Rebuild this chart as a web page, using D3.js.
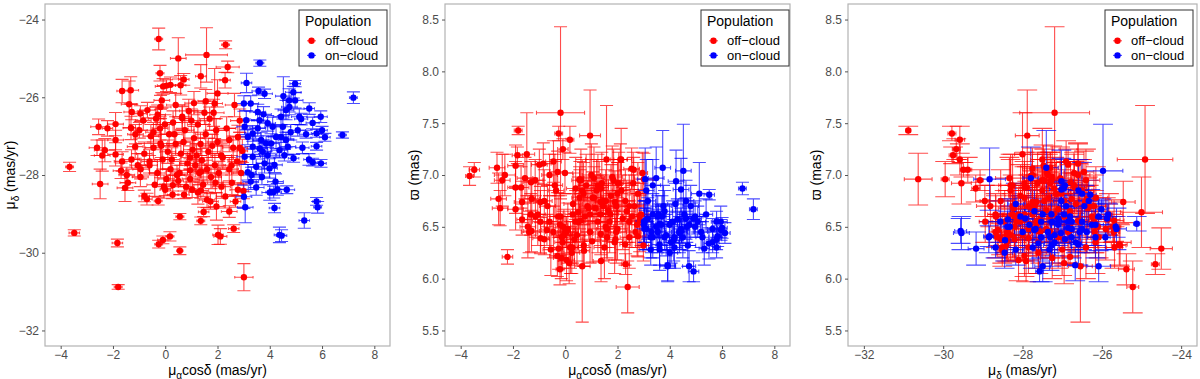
<!DOCTYPE html>
<html>
<head>
<meta charset="utf-8">
<script src="https://cdn.jsdelivr.net/npm/d3@7"></script>
<style>
  body { margin: 0; background: #fff; }
  svg text { font-family: "Liberation Sans", Arial, Helvetica, sans-serif; }
</style>
</head>
<body>
<svg id="chart" width="1200" height="379"></svg>
<script>
// one row per star: pmra, pmdec, parallax, err pmra, err pmdec, err parallax
const offCloud = [
  [-3.66,-27.79,6.99,0.15,0.12,0.09], [-3.48,-29.49,7.05,0.20,0.08,0.07], [-1.80,-30.88,7.43,0.15,0.06,0.04],
  [-1.83,-29.75,7.19,0.20,0.10,0.08], [-0.25,-29.78,7.40,0.15,0.10,0.07], [0.18,-29.58,7.34,0.15,0.12,0.13],
  [-0.09,-29.67,7.25,0.20,0.10,0.10], [0.56,-29.95,6.96,0.12,0.10,0.17], [2.02,-29.54,6.92,0.20,0.25,0.20],
  [2.11,-29.58,7.15,0.25,0.20,0.15], [2.62,-29.38,7.05,0.20,0.10,0.12], [1.36,-29.18,6.87,0.15,0.10,0.13],
  [0.56,-29.07,6.95,0.15,0.08,0.10], [1.47,-28.95,6.75,0.20,0.12,0.15], [2.45,-28.94,6.55,0.30,0.15,0.20],
  [1.96,-28.81,6.70,0.30,0.35,0.20], [3.01,-30.63,6.96,0.35,0.35,0.25], [-0.25,-24.50,6.29,0.15,0.28,0.20],
  [1.58,-24.91,7.15,0.80,0.70,0.52], [0.50,-25.00,6.64,0.30,0.53,0.34], [2.31,-24.65,6.14,0.15,0.10,0.10],
  [2.39,-25.22,5.92,0.44,0.15,0.25], [2.29,-25.56,6.33,0.20,0.20,0.20], [1.36,-25.46,6.74,0.20,0.30,0.20],
  [0.71,-25.54,6.32,0.20,0.15,0.20], [-0.20,-25.38,6.09,0.15,0.20,0.15], [-0.08,-25.72,6.50,0.30,0.20,0.15],
  [0.05,-25.70,6.45,0.35,0.15,0.15], [0.20,-25.68,6.30,0.30,0.20,0.20], [0.59,-25.69,6.56,0.20,0.25,0.20],
  [-1.65,-25.84,6.57,0.20,0.30,0.15], [-1.32,-25.82,6.62,0.30,0.35,0.20], [-1.38,-26.18,6.45,0.30,0.60,0.20],
  [-0.13,-26.08,6.40,0.30,0.20,0.20], [1.55,-26.10,6.50,0.30,0.30,0.20], [1.89,-26.16,6.35,0.30,0.90,0.30],
  [-0.18,-26.25,6.60,0.40,0.30,0.20], [-0.68,-26.33,6.70,0.30,0.20,0.20], [-0.95,-26.42,6.74,0.25,0.20,0.15],
  [-1.28,-26.38,6.77,0.30,0.20,0.20], [-2.55,-26.76,6.77,0.30,0.20,0.25], [-2.21,-26.80,6.21,0.20,0.20,0.07],
  [-1.90,-26.69,6.88,0.30,0.30,0.25], [-1.31,-26.79,6.93,0.30,0.30,0.20], [-0.99,-26.85,7.10,0.30,0.20,0.15],
  [-2.61,-27.30,7.07,0.30,0.20,0.15], [-2.31,-27.36,7.00,0.40,0.30,0.20], [-2.41,-27.50,6.95,0.30,0.40,0.25],
  [-1.90,-27.47,7.09,0.30,0.30,0.20], [-1.15,-27.27,6.95,0.30,0.30,0.20], [-2.49,-28.23,6.68,0.30,0.38,0.17],
  [-1.69,-27.89,6.88,0.30,0.20,0.20], [-1.47,-28.00,7.20,0.30,0.20,0.40], [-1.43,-28.20,6.50,0.30,0.20,0.30],
  [-1.54,-28.33,6.97,0.30,0.35,0.20], [-0.80,-28.54,6.38,0.20,0.15,0.15], [-0.70,-28.62,6.47,0.20,0.15,0.15],
  [-0.27,-28.67,6.60,0.15,0.10,0.20], [0.00,-28.38,6.45,0.20,0.15,0.15], [0.29,-28.26,6.62,0.30,0.25,0.20],
  [0.28,-28.51,6.30,0.20,0.10,0.15], [0.72,-28.51,6.27,0.20,0.10,0.15], [0.50,-28.15,6.55,0.20,0.15,0.20],
  [1.03,-28.38,6.36,0.30,0.20,0.20], [1.36,-28.40,6.43,0.30,0.20,0.20], [1.60,-28.64,6.40,0.30,0.20,0.20],
  [1.73,-28.68,6.62,0.30,0.20,0.20], [2.69,-28.68,6.45,0.20,0.15,0.15], [2.78,-28.38,6.41,0.30,0.15,0.20],
  [2.99,-28.41,6.32,0.20,0.20,0.15], [2.78,-27.02,6.82,0.30,0.30,0.30], [2.85,-27.30,6.60,0.30,0.40,0.20],
  [2.95,-27.38,7.02,0.20,0.30,0.20], [-0.18,-27.19,7.60,0.92,0.88,0.83], [0.95,-27.88,7.38,0.40,0.30,0.44],
  [2.14,-27.50,7.15,0.40,0.30,0.30], [0.65,-26.54,6.12,0.30,0.30,0.54], [1.37,-27.91,6.17,0.30,0.20,0.20],
  [-1.90,-27.10,6.67,0.30,0.25,0.20], [-1.65,-27.65,6.74,0.30,0.25,0.20], [-1.29,-27.60,6.46,0.30,0.25,0.20],
  [-0.94,-27.85,6.39,0.30,0.25,0.15], [-1.14,-26.95,6.60,0.30,0.25,0.20], [-0.84,-26.60,7.11,0.30,0.25,0.20],
  [-0.45,-26.90,7.13,0.30,0.25,0.20], [-0.60,-27.75,7.00,0.30,0.25,0.20], [-0.29,-26.45,7.03,0.30,0.25,0.20],
  [-0.01,-26.70,7.02,0.30,0.25,0.20], [1.92,-28.20,6.38,0.30,0.25,0.20], [2.54,-27.75,7.06,0.30,0.25,0.20],
  [1.20,-27.50,6.85,0.40,0.30,0.30], [1.05,-27.35,6.78,0.35,0.25,0.25], [1.40,-27.62,6.92,0.40,0.30,0.30],
  [0.85,-27.70,6.70,0.30,0.30,0.25], [1.65,-27.40,6.66,0.45,0.35,0.30], [1.90,-27.75,6.74,0.40,0.30,0.30],
  [0.60,-27.45,6.95,0.35,0.30,0.30], [2.20,-27.55,6.58,0.40,0.30,0.30], [1.30,-27.95,6.88,0.35,0.30,0.25],
  [0.95,-28.10,6.62,0.30,0.25,0.25], [1.75,-28.05,6.80,0.40,0.30,0.30], [2.45,-27.85,6.70,0.35,0.30,0.30],
  [0.40,-27.20,6.87,0.35,0.30,0.30], [1.10,-27.05,6.97,0.40,0.30,0.30], [1.55,-26.95,6.75,0.40,0.35,0.30],
  [2.00,-27.15,6.82,0.40,0.30,0.30], [0.75,-26.85,6.60,0.35,0.30,0.30], [1.25,-26.70,6.90,0.40,0.35,0.30],
  [1.70,-26.55,6.55,0.40,0.30,0.30], [0.30,-26.65,6.72,0.35,0.30,0.30], [0.10,-27.40,6.48,0.30,0.30,0.25],
  [-0.10,-27.60,6.35,0.30,0.25,0.25], [0.20,-27.85,6.30,0.30,0.30,0.25], [-0.30,-27.95,6.22,0.30,0.30,0.20],
  [0.45,-28.00,6.42,0.30,0.25,0.25], [0.05,-28.10,6.18,0.30,0.25,0.20], [-0.45,-27.30,6.45,0.30,0.30,0.25],
  [-0.60,-27.65,6.55,0.30,0.30,0.25], [0.35,-26.95,6.38,0.30,0.30,0.25], [-0.20,-26.80,6.52,0.30,0.30,0.30],
  [2.60,-27.30,6.92,0.40,0.30,0.30], [2.35,-26.80,6.65,0.35,0.30,0.30], [2.55,-28.20,6.60,0.35,0.30,0.30],
  [2.15,-28.30,6.85,0.35,0.30,0.30], [1.45,-28.25,6.70,0.40,0.30,0.30], [0.80,-28.30,6.90,0.30,0.30,0.30],
  [1.85,-26.40,6.95,0.40,0.35,0.30], [0.90,-26.35,6.68,0.35,0.30,0.30], [1.00,-26.60,7.00,0.35,0.30,0.30],
  [2.75,-27.65,6.52,0.35,0.30,0.30], [1.35,-27.20,6.62,0.40,0.30,0.30], [0.55,-27.95,6.78,0.30,0.30,0.30],
  [1.60,-27.85,6.48,0.40,0.30,0.30], [2.05,-27.95,6.92,0.40,0.30,0.30], [1.15,-27.75,6.68,0.40,0.30,0.30],
  [0.70,-27.15,6.82,0.35,0.30,0.30], [-0.35,-26.55,6.85,0.30,0.30,0.30], [-0.55,-27.00,6.28,0.30,0.30,0.25],
  [-0.15,-27.25,6.20,0.30,0.30,0.20], [0.25,-27.60,6.25,0.30,0.30,0.20], [0.15,-26.95,6.15,0.30,0.30,0.20],
  [-0.05,-28.30,6.42,0.30,0.30,0.25], [2.45,-27.10,6.40,0.35,0.30,0.30], [1.95,-26.85,6.45,0.40,0.30,0.30],
  [1.50,-26.40,6.30,0.40,0.30,0.30], [0.95,-27.55,6.45,0.35,0.30,0.30], [1.80,-27.25,6.98,0.40,0.30,0.30],
  [1.25,-28.45,6.55,0.35,0.30,0.30], [2.30,-28.55,6.75,0.35,0.30,0.30], [0.65,-26.50,6.85,0.35,0.30,0.30],
  [-0.80,-27.45,6.75,0.30,0.30,0.30], [-1.05,-27.75,6.62,0.30,0.30,0.30], [-0.95,-28.05,6.55,0.30,0.25,0.30],
  [-0.40,-28.25,6.90,0.30,0.30,0.30], [2.85,-26.60,6.56,0.35,0.30,0.30], [2.65,-26.20,6.70,0.35,0.30,0.30],
  [2.00,-25.90,6.48,0.40,0.35,0.30], [0.40,-26.20,6.55,0.35,0.30,0.30], [1.10,-26.15,6.78,0.35,0.30,0.30],
  [2.90,-27.95,6.62,0.30,0.30,0.30]
];

const onCloud = [
  [3.62,-25.12,6.53,0.15,0.08,0.07], [3.11,-25.63,6.48,0.20,0.25,0.20], [3.57,-25.84,6.62,0.25,0.10,0.10],
  [3.80,-25.91,6.40,0.30,0.12,0.12], [7.20,-26.01,6.67,0.15,0.15,0.10], [4.97,-25.65,6.50,0.20,0.08,0.10],
  [4.90,-25.87,6.58,0.30,0.15,0.15], [4.52,-25.97,7.04,0.30,0.50,0.45], [4.74,-26.08,6.12,0.25,0.30,0.15],
  [4.97,-26.08,6.60,0.30,0.20,0.15], [5.51,-26.29,6.81,0.20,0.15,0.05], [5.13,-26.50,6.82,0.30,0.20,0.30],
  [5.20,-26.56,6.45,0.25,0.15,0.15], [5.64,-26.66,6.35,0.25,0.15,0.10], [5.07,-26.85,6.55,0.30,0.15,0.15],
  [5.39,-26.95,6.62,0.25,0.10,0.15], [5.79,-26.93,6.38,0.20,0.10,0.10], [6.11,-27.03,6.44,0.20,0.10,0.10],
  [6.78,-26.97,6.87,0.15,0.08,0.06], [5.79,-27.26,6.55,0.20,0.10,0.10], [5.64,-27.67,6.48,0.20,0.10,0.10],
  [5.96,-27.70,6.47,0.20,0.10,0.10], [4.91,-27.57,6.07,0.20,0.10,0.10], [4.56,-27.49,6.62,0.30,0.15,0.15],
  [4.65,-28.38,6.50,0.30,0.10,0.15], [4.29,-28.37,6.57,0.30,0.15,0.20], [4.15,-28.44,6.37,0.30,0.15,0.20],
  [4.18,-28.85,6.40,0.20,0.12,0.15], [4.22,-28.17,6.72,0.30,0.20,0.20], [4.37,-29.54,6.44,0.20,0.20,0.16],
  [4.45,-29.56,6.46,0.20,0.15,0.12], [5.32,-29.17,6.29,0.20,0.20,0.16], [5.79,-28.68,6.30,0.15,0.10,0.10],
  [5.83,-28.83,6.41,0.15,0.15,0.10], [3.06,-28.83,6.96,0.30,0.40,0.30], [3.01,-28.56,6.55,0.30,0.30,0.20],
  [3.48,-28.32,6.50,0.30,0.20,0.20], [3.27,-28.17,6.28,0.30,0.20,0.15], [3.16,-27.93,6.58,0.30,0.20,0.20],
  [3.48,-27.79,6.97,0.30,0.20,0.30], [3.80,-27.70,6.65,0.30,0.25,0.20], [3.92,-27.49,6.12,0.30,0.20,0.15],
  [3.73,-27.40,7.07,0.30,0.30,0.36], [3.16,-27.02,6.75,0.30,0.20,0.20], [3.35,-26.93,6.90,0.30,0.20,0.25],
  [3.54,-26.80,6.60,0.30,0.20,0.20], [3.54,-26.38,6.45,0.30,0.20,0.20], [3.76,-26.44,6.70,0.30,0.20,0.20],
  [3.61,-26.59,6.33,0.30,0.20,0.20], [3.01,-26.16,6.52,0.30,0.20,0.20], [3.27,-26.16,6.40,0.30,0.20,0.20],
  [3.92,-26.67,6.13,0.30,0.20,0.15], [4.11,-26.76,6.55,0.30,0.25,0.20], [4.24,-27.02,6.94,0.30,0.30,0.30],
  [4.43,-27.02,6.86,0.30,0.30,0.30], [4.05,-27.19,6.35,0.30,0.25,0.20], [4.43,-26.50,6.48,0.30,0.20,0.20],
  [4.62,-26.33,6.75,0.30,0.25,0.20], [4.50,-26.76,6.40,0.30,0.20,0.20], [4.75,-26.25,6.52,0.30,0.20,0.20],
  [4.69,-27.27,6.32,0.30,0.20,0.20], [4.62,-27.10,6.58,0.30,0.20,0.20], [4.37,-27.36,6.45,0.30,0.20,0.20],
  [3.67,-27.10,6.52,0.30,0.20,0.20], [3.86,-27.19,6.42,0.30,0.20,0.20], [3.35,-27.27,6.62,0.30,0.20,0.20],
  [3.61,-27.32,6.28,0.30,0.20,0.20], [3.10,-26.59,6.85,0.30,0.25,0.30], [3.04,-26.76,6.48,0.30,0.20,0.20],
  [3.35,-27.53,6.40,0.30,0.20,0.20], [3.04,-27.53,6.55,0.30,0.20,0.20], [3.99,-27.83,6.52,0.30,0.25,0.20],
  [4.18,-27.74,6.30,0.30,0.20,0.20], [3.30,-28.00,6.45,0.30,0.20,0.20], [3.70,-28.05,6.60,0.30,0.20,0.20],
  [4.00,-28.45,6.25,0.30,0.20,0.15], [5.95,-26.50,6.55,0.25,0.15,0.15], [5.50,-27.60,6.34,0.20,0.15,0.15],
  [6.00,-26.85,6.49,0.20,0.10,0.10], [4.80,-26.90,6.70,0.30,0.20,0.20], [5.25,-27.30,6.40,0.25,0.15,0.15]
];

const populations = ["off\u2212cloud", "on\u2212cloud"];
const popColors = ["#ff0000", "#0000ff"];
const pmraTicks = [-4, -2, 0, 2, 4, 6, 8];
const pmdecTicks = [-32, -30, -28, -26, -24];
const plxTicks = [5.5, 6.0, 6.5, 7.0, 7.5, 8.0, 8.5];

const svg = d3.select("#chart");
const datasets = [offCloud, onCloud];

// label pieces: [main text, subscript, rest]
const titlePmra = ["\u03bc", "\u03b1", "cos\u03b4 (mas/yr)"];
const titlePmdec = ["\u03bc", "\u03b4", " (mas/yr)"];
const titlePlx = ["\u03d6 (mas)", "", ""];

const panels = [
  {left: 45, right: 390, xCol: 0, yCol: 1, xDomain: [-4.6, 8.6], yDomain: [-32.4, -23.6],
   xTicks: pmraTicks, yTicks: pmdecTicks, xFmt: d3.format("d"), yFmt: d3.format("d"),
   xTitle: titlePmra, yTitle: titlePmdec, yTitleX: 15, hCap: 1.3, legendRight: 387},
  {left: 445, right: 790, xCol: 0, yCol: 2, xDomain: [-4.6, 8.6], yDomain: [5.35, 8.65],
   xTicks: pmraTicks, yTicks: plxTicks, xFmt: d3.format("d"), yFmt: d3.format(".1f"),
   xTitle: titlePmra, yTitle: titlePlx, yTitleX: 419, hCap: 2, legendRight: 789},
  {left: 848, right: 1197, xCol: 1, yCol: 2, xDomain: [-32.4, -23.6], yDomain: [5.35, 8.65],
   xTicks: pmdecTicks, yTicks: plxTicks, xFmt: d3.format("d"), yFmt: d3.format(".1f"),
   xTitle: titlePmdec, yTitle: titlePlx, yTitleX: 821, hCap: 2, legendRight: 1193}
];

const plotTop = 4, plotBottom = 346;

function addTitle(sel, parts) {
  sel.append("tspan").text(parts[0]);
  if (parts[1]) {
    sel.append("tspan").attr("font-size", 10).attr("dy", 3.5).text(parts[1]);
    sel.append("tspan").attr("dy", -3.5).text(parts[2]);
  }
}

panels.forEach((p, i) => {
  const x = d3.scaleLinear().domain(p.xDomain).range([p.left, p.right]);
  const y = d3.scaleLinear().domain(p.yDomain).range([plotBottom, plotTop]);
  const g = svg.append("g");

  g.append("clipPath").attr("id", "clip" + i)
    .append("rect").attr("x", p.left).attr("y", plotTop)
    .attr("width", p.right - p.left).attr("height", plotBottom - plotTop);

  const plot = g.append("g").attr("clip-path", `url(#clip${i})`);
  const xi = p.xCol, yi = p.yCol;
  const vHalf = Math.abs(x(0.25) - x(0));

  // vertical error bars
  datasets.forEach((data, k) => {
    plot.append("g")
      .attr("fill", "none").attr("stroke", popColors[k])
      .attr("stroke-opacity", 0.7).attr("stroke-width", 1.1)
      .selectAll("path").data(data).join("path")
      .attr("d", d => {
        const cx = x(d[xi]), y0 = y(d[yi] - d[yi + 3]), y1 = y(d[yi] + d[yi + 3]);
        return `M${cx - vHalf},${y1}H${cx + vHalf}M${cx},${y1}V${y0}M${cx - vHalf},${y0}H${cx + vHalf}`;
      });
  });

  // horizontal error bars
  datasets.forEach((data, k) => {
    plot.append("g")
      .attr("fill", "none").attr("stroke", popColors[k])
      .attr("stroke-opacity", 0.7).attr("stroke-width", 1.1)
      .selectAll("path").data(data).join("path")
      .attr("d", d => {
        const cy = y(d[yi]), x0 = x(d[xi] - d[xi + 3]), x1 = x(d[xi] + d[xi + 3]);
        return `M${x0},${cy - p.hCap}V${cy + p.hCap}M${x0},${cy}H${x1}M${x1},${cy - p.hCap}V${cy + p.hCap}`;
      });
  });

  // points
  datasets.forEach((data, k) => {
    plot.append("g").attr("fill", popColors[k])
      .selectAll("circle").data(data).join("circle")
      .attr("cx", d => x(d[xi])).attr("cy", d => y(d[yi])).attr("r", 3.2);
  });

  // panel border
  g.append("rect").attr("x", p.left).attr("y", plotTop)
    .attr("width", p.right - p.left).attr("height", plotBottom - plotTop)
    .attr("fill", "none").attr("stroke", "#b3b3b3").attr("stroke-width", 1.2);

  // axes
  const xAxis = g.append("g").attr("transform", `translate(0,${plotBottom})`)
    .call(d3.axisBottom(x).tickValues(p.xTicks).tickFormat(p.xFmt).tickSize(3).tickPadding(1.5));
  const yAxis = g.append("g").attr("transform", `translate(${p.left},0)`)
    .call(d3.axisLeft(y).tickValues(p.yTicks).tickFormat(p.yFmt).tickSize(3).tickPadding(3));
  [xAxis, yAxis].forEach(a => {
    a.select(".domain").remove();
    a.selectAll(".tick line").attr("stroke", "#555").attr("stroke-width", 1);
    a.selectAll(".tick text").attr("fill", "#4d4d4d").attr("font-size", 12)
      .attr("font-family", "'Liberation Sans', Arial, sans-serif");
  });

  // axis titles
  addTitle(g.append("text").attr("x", (p.left + p.right) / 2).attr("y", 375)
    .attr("text-anchor", "middle").attr("font-size", 14).attr("fill", "#000"), p.xTitle);
  addTitle(g.append("text")
    .attr("transform", `translate(${p.yTitleX},${(plotTop + plotBottom) / 2}) rotate(-90)`)
    .attr("text-anchor", "middle").attr("font-size", 14).attr("fill", "#000"), p.yTitle);

  // legend
  const lw = 88, lx = p.legendRight - lw;
  const leg = g.append("g").attr("transform", `translate(${lx},10)`);
  leg.append("rect").attr("width", lw).attr("height", 56)
    .attr("fill", "#fff").attr("stroke", "#333").attr("stroke-width", 1);
  leg.append("text").attr("x", 6).attr("y", 16).attr("font-size", 14).text("Population");
  populations.forEach((name, k) => {
    const cy = 30.8 + k * 14.6;
    leg.append("line").attr("x1", 8).attr("x2", 17).attr("y1", cy).attr("y2", cy)
      .attr("stroke", popColors[k]).attr("stroke-opacity", 0.7).attr("stroke-width", 1.1);
    leg.append("circle").attr("cx", 12.5).attr("cy", cy).attr("r", 3.2).attr("fill", popColors[k]);
    leg.append("text").attr("x", 26).attr("y", cy + 4.6).attr("font-size", 13).text(name);
  });
});
</script>
</body>
</html>
